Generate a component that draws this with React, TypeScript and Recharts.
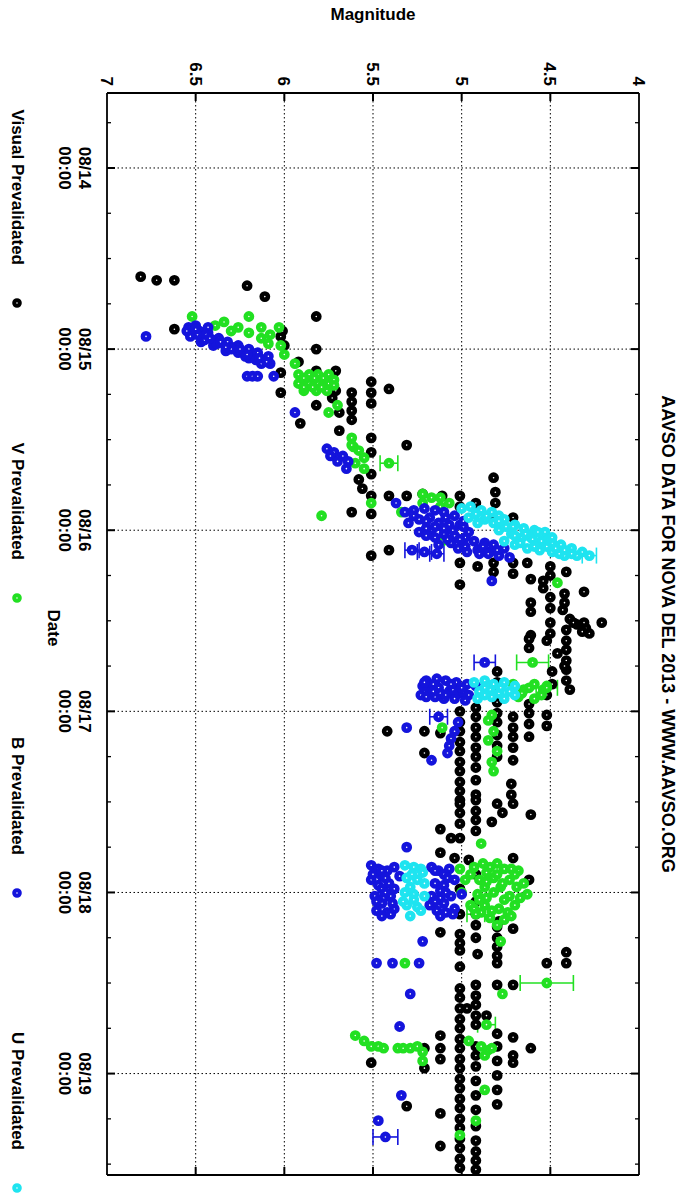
import { CartesianGrid, ErrorBar, Scatter, ScatterChart, XAxis, YAxis } from 'recharts';

// days since 08/14 00:00, magnitude
const VISUAL: [number, number][] = [
  [0.6, 6.81], [0.62, 6.72], [0.62, 6.62], [0.65, 6.21], [0.71, 6.11], [0.82, 5.82], [1.0, 5.82], [0.89, 6.62],
  [1.07, 5.92], [1.24, 6.02], [1.41, 5.91], [1.45, 5.69], [1.31, 5.82], [1.12, 5.71], [1.23, 5.71], [1.24, 5.62],
  [1.29, 5.62], [1.34, 5.62], [1.39, 5.62], [1.18, 5.51], [1.24, 5.51], [1.3, 5.51], [1.22, 5.41], [1.49, 5.51],
  [1.53, 5.31], [0.93, 6.02], [1.13, 6.02], [1.12, 5.82], [1.27, 5.73], [1.35, 5.69], [0.9, 6.01], [0.98, 6.0],
  [1.57, 5.51], [1.69, 5.51], [1.72, 5.58], [1.77, 5.56], [1.81, 5.51], [1.81, 5.41], [1.91, 5.51], [1.9, 5.62],
  [2.14, 5.51], [2.11, 5.41], [1.81, 5.31], [1.8, 5.22], [1.81, 5.11], [1.81, 5.01], [1.87, 5.01], [1.85, 4.92],
  [1.71, 4.82], [1.79, 4.81], [1.85, 4.81], [1.93, 4.81], [1.93, 4.71],
  [2.18, 5.01], [2.3, 5.01], [2.2, 4.91], [2.18, 4.82], [2.23, 4.82], [2.18, 4.71], [2.24, 4.71], [2.18, 4.63],
  [2.27, 4.61], [2.28, 4.54], [2.32, 4.54], [2.2, 4.5], [2.25, 4.5], [2.23, 4.41], [2.35, 4.42], [2.4, 4.42],
  [2.37, 4.5], [2.43, 4.5], [2.4, 4.61], [2.45, 4.61], [2.34, 4.31], [2.44, 4.43], [2.49, 4.39], [2.52, 4.35],
  [2.54, 4.3], [2.57, 4.28], [2.51, 4.21], [2.51, 4.5], [2.57, 4.5], [2.58, 4.61], [2.56, 4.32],
  [2.61, 4.52], [2.6, 4.62], [2.65, 4.62], [2.55, 4.41], [2.51, 4.37], [2.51, 4.31], [2.68, 4.46], [2.61, 4.41],
  [2.66, 4.41], [2.72, 4.41], [2.77, 4.41], [2.83, 4.41], [2.88, 4.39], [2.75, 4.42], [2.78, 4.49], [2.85, 4.49],
  [2.91, 4.52], [3.02, 4.52], [3.08, 4.52],
  [3.0, 5.01], [3.06, 5.01], [3.11, 5.01], [3.17, 5.01], [3.22, 5.01], [3.28, 5.01], [3.33, 5.01], [3.39, 5.01],
  [3.44, 5.01], [3.49, 5.01],
  [2.98, 4.92], [3.03, 4.92], [3.09, 4.92], [3.14, 4.92], [3.2, 4.92], [3.25, 4.92], [3.31, 4.92], [3.38, 4.92],
  [3.46, 4.92],
  [2.78, 4.8], [2.84, 4.8], [2.9, 4.8], [2.95, 4.8], [3.01, 4.8], [3.06, 4.8], [3.13, 4.8], [3.19, 4.8], [3.25, 4.8],
  [3.03, 4.71], [3.09, 4.71], [3.14, 4.71], [3.2, 4.71], [3.27, 4.71],
  [2.96, 4.62], [3.01, 4.62], [3.07, 4.62], [3.14, 4.62],
  [3.11, 5.42], [3.11, 5.21], [3.12, 5.12], [3.23, 5.21], [3.4, 4.72], [3.46, 4.72],
  [3.51, 5.01], [3.56, 5.01], [3.62, 5.01], [3.7, 5.01], [3.49, 4.92], [3.55, 4.92], [3.6, 4.92], [3.66, 4.92],
  [3.51, 4.8], [3.51, 4.71], [3.56, 4.77], [3.61, 4.83], [3.57, 4.61], [3.65, 5.12], [3.7, 5.06], [3.78, 5.12],
  [3.81, 5.04], [3.82, 4.96], [4.12, 5.01], [4.22, 5.12], [4.23, 5.01], [4.28, 5.01], [4.32, 5.01], [4.25, 4.92],
  [4.34, 4.91], [4.19, 4.8], [4.25, 4.8], [4.3, 4.8], [4.35, 4.8], [4.2, 4.71], [3.81, 4.71], [3.93, 4.62],
  [4.41, 5.01], [4.39, 4.8], [4.39, 4.52], [4.33, 4.41], [4.39, 4.41], [4.12, 4.92], [4.18, 4.92], [4.16, 4.79],
  [3.9, 4.92], [3.98, 5.01], [4.05, 4.92],
  [4.53, 5.01], [4.58, 5.01], [4.64, 5.01], [4.7, 5.01], [4.75, 5.01], [4.81, 5.01], [4.86, 5.01], [4.92, 5.01],
  [4.97, 5.01], [5.03, 5.01], [5.08, 5.01], [5.14, 5.01], [5.19, 5.01], [5.25, 5.01], [5.3, 5.01], [5.36, 5.01],
  [5.41, 5.01], [5.47, 5.01], [5.52, 5.01],
  [4.51, 4.92], [4.57, 4.92], [4.62, 4.92], [4.68, 4.92], [4.73, 4.92], [4.85, 4.92], [4.9, 4.92], [4.96, 4.92],
  [5.04, 4.92], [5.12, 4.92], [5.2, 4.92], [5.29, 4.92], [5.37, 4.92], [5.43, 4.92], [5.48, 4.92], [5.53, 4.92],
  [4.51, 4.8], [4.51, 4.71], [4.64, 4.97], [4.68, 4.86], [4.78, 4.8], [4.85, 4.8], [4.93, 4.8], [5.01, 4.8],
  [5.09, 4.8], [5.17, 4.8], [4.8, 4.71], [4.9, 4.71], [4.94, 4.71], [4.86, 4.61], [4.79, 5.12], [4.86, 5.12],
  [4.92, 5.12], [4.86, 5.21], [4.97, 5.21], [4.94, 5.51], [5.18, 5.31], [5.22, 5.12], [5.4, 5.12],
];

const V_BAND: [number, number][] = [
  [0.82, 6.52], [0.82, 6.2], [0.88, 6.13], [0.88, 6.03], [0.87, 6.39], [0.9, 6.3], [0.91, 6.2], [0.94, 6.13],
  [0.97, 6.09], [0.98, 6.02], [1.03, 6.0], [0.88, 6.26], [0.85, 6.34], [0.92, 6.08], [1.08, 5.94],
  [1.14, 5.92], [1.14, 5.86], [1.14, 5.81], [1.14, 5.75], [1.19, 5.92], [1.19, 5.86], [1.19, 5.81], [1.19, 5.75],
  [1.23, 5.89], [1.23, 5.82], [1.23, 5.76],
  [1.16, 5.89], [1.16, 5.83], [1.16, 5.78], [1.21, 5.89], [1.21, 5.84], [1.21, 5.79], [1.17, 5.72], [1.2, 5.72],
  [1.35, 5.75], [1.31, 5.7], [1.49, 5.62], [1.54, 5.61], [1.53, 5.62], [1.56, 5.58], [1.6, 5.55], [1.63, 5.6],
  [1.66, 5.55],
  [1.85, 5.51], [1.92, 5.79], [1.9, 5.34], [1.8, 5.22], [1.85, 5.22], [1.82, 5.17], [1.82, 5.12], [1.87, 5.12],
  [1.85, 5.07], [2.29, 4.46], [2.06, 5.11],
  [2.85, 4.71], [2.88, 4.65], [2.85, 4.59], [2.88, 4.54], [2.92, 4.68], [2.93, 4.59],
  [2.87, 4.62], [2.9, 4.66], [2.91, 4.55], [2.86, 4.52],
  [3.02, 4.83], [3.05, 4.85], [3.11, 4.82], [3.16, 4.85], [3.22, 4.8], [3.28, 4.83], [3.09, 5.11], [3.33, 4.82],
  [3.73, 4.89],
  [3.87, 5.01], [3.86, 4.93], [3.86, 4.84], [3.87, 4.76], [3.88, 4.68], [3.93, 4.98], [3.93, 4.9], [3.92, 4.82],
  [3.93, 4.73], [3.95, 4.65], [4.0, 5.0], [4.01, 4.91], [4.0, 4.82], [4.02, 4.73], [4.01, 4.63], [4.07, 4.95],
  [4.07, 4.87], [4.09, 4.79], [4.07, 4.7], [4.14, 4.84], [4.15, 4.76],
  [3.9, 4.95], [3.9, 4.8], [3.9, 4.7], [3.97, 4.87], [3.97, 4.78], [3.97, 4.69], [4.04, 4.9], [4.04, 4.76],
  [4.11, 4.89], [4.11, 4.74], [4.18, 4.8], [3.84, 4.88], [3.84, 4.8],
  [3.87, 4.72], [3.94, 4.86], [3.95, 4.77], [4.03, 4.86], [4.03, 4.67], [4.09, 4.93], [4.1, 4.83], [4.13, 4.72],
  [3.89, 4.86],
  [4.27, 4.78], [4.39, 5.32], [4.56, 4.77],
  [4.79, 5.6], [4.82, 5.55], [4.85, 5.51], [4.85, 5.47], [4.86, 5.44], [4.86, 5.36], [4.86, 5.33], [4.86, 5.29],
  [4.85, 5.25], [4.88, 5.22], [4.93, 5.22],
  [4.82, 4.96], [4.85, 4.89], [4.87, 4.85], [4.9, 4.87], [4.86, 4.83], [5.09, 4.87], [5.26, 4.92], [5.34, 5.01],
];

const B_BAND: [number, number][] = [
  [0.93, 6.78],
  [0.88, 6.54], [0.91, 6.51], [0.9, 6.48], [0.93, 6.46], [0.91, 6.43], [0.95, 6.4], [0.94, 6.37], [0.97, 6.34],
  [0.96, 6.32], [0.99, 6.29], [0.98, 6.26], [1.02, 6.23], [1.0, 6.2], [1.03, 6.17], [1.02, 6.15], [1.06, 6.12],
  [1.04, 6.09], [1.08, 6.08], [1.08, 6.13], [1.05, 6.2], [1.02, 6.26], [1.01, 6.33], [0.98, 6.4], [0.96, 6.47],
  [0.93, 6.53], [0.87, 6.5], [0.88, 6.43],
  [0.9, 6.55], [0.95, 6.45], [1.0, 6.3], [1.04, 6.22], [1.06, 6.16], [0.97, 6.38], [0.92, 6.49],
  [0.89, 6.5], [0.92, 6.44], [0.94, 6.42], [0.96, 6.36], [0.99, 6.33], [1.0, 6.25], [1.03, 6.21], [1.05, 6.14],
  [1.07, 6.1],
  [1.15, 6.21], [1.15, 6.18], [1.15, 6.15], [1.15, 6.06], [1.35, 5.94],
  [1.55, 5.76], [1.57, 5.72], [1.59, 5.67], [1.62, 5.64], [1.59, 5.74], [1.62, 5.7], [1.66, 5.65],
  [1.85, 5.37],
  [1.9, 5.32], [1.89, 5.27], [1.88, 5.21], [1.89, 5.15], [1.9, 5.1], [1.92, 5.04], [1.96, 5.3], [1.94, 5.24],
  [1.93, 5.18], [1.96, 5.13], [1.97, 5.07], [1.97, 5.01], [2.01, 5.24], [2.0, 5.17], [2.02, 5.1], [2.03, 5.04],
  [2.04, 4.98], [2.06, 4.93], [2.08, 5.13], [2.07, 5.06], [2.09, 4.98], [2.11, 4.91], [2.12, 4.84], [2.14, 4.79],
  [2.15, 4.73], [2.07, 4.87], [2.01, 4.96], [2.08, 4.82], [2.1, 4.76],
  [1.99, 5.2], [2.04, 5.15], [2.05, 5.08], [2.1, 5.02], [2.12, 4.97], [2.13, 4.9], [1.99, 5.1], [1.98, 4.99],
  [1.92, 5.27], [1.95, 5.2], [1.98, 5.15], [2.0, 5.05], [2.03, 5.2], [2.05, 5.01], [2.09, 4.88], [2.11, 4.8],
  [2.13, 4.85], [1.93, 5.09], [1.95, 4.99],
  [2.28, 4.83],
  [2.83, 5.2], [2.82, 5.14], [2.83, 5.09], [2.84, 5.03], [2.85, 4.97], [2.86, 4.92], [2.88, 5.18], [2.87, 5.13],
  [2.89, 5.07], [2.9, 5.01], [2.91, 4.96], [2.92, 5.15], [2.93, 5.1], [2.93, 5.04], [2.94, 4.98], [2.91, 5.23],
  [2.86, 5.22], [2.9, 5.12], [2.88, 5.05], [2.92, 5.2],
  [2.85, 5.16], [2.85, 5.06], [2.89, 5.16], [2.89, 4.99], [2.87, 5.0], [2.91, 5.09], [2.84, 5.21],
  [3.06, 5.02], [3.11, 5.04], [3.15, 5.06], [3.19, 5.07], [3.23, 5.08], [3.09, 5.31], [3.27, 5.17],
  [3.75, 5.31],
  [3.85, 5.51], [3.87, 5.47], [3.88, 5.42], [3.86, 5.38], [3.93, 5.51], [3.96, 5.47], [3.95, 5.41], [4.02, 5.49],
  [4.03, 5.44], [4.02, 5.4], [4.1, 5.48], [4.11, 5.42], [4.09, 5.38], [3.86, 5.17], [3.88, 5.13], [3.87, 5.07],
  [3.95, 5.15], [3.96, 5.1], [3.93, 5.04], [4.02, 5.17], [4.03, 5.12], [4.02, 5.06], [4.1, 5.14], [4.11, 5.09],
  [4.09, 5.04], [3.91, 5.35], [4.07, 5.18],
  [3.9, 5.5], [3.98, 5.45], [4.06, 5.45], [3.9, 5.1], [3.99, 5.12], [4.06, 5.1], [4.13, 5.12], [3.91, 5.45],
  [4.13, 5.45], [4.06, 5.39], [3.98, 5.38],
  [3.88, 5.45], [3.92, 5.43], [4.0, 5.43], [4.05, 5.48], [3.88, 5.15], [3.92, 5.08], [4.0, 5.09], [4.05, 5.15],
  [4.12, 5.05], [4.12, 5.4],
  [4.01, 5.0], [4.27, 5.22], [4.39, 5.48], [4.39, 5.39], [4.39, 5.24],
  [4.56, 5.29], [4.74, 5.35], [5.12, 5.34], [5.26, 5.47],
];

const U_BAND: [number, number][] = [
  [1.88, 5.0], [1.87, 4.95], [1.89, 4.89], [1.9, 4.83], [1.92, 4.79], [1.93, 4.96], [1.94, 4.87], [1.96, 4.82],
  [1.94, 4.76], [1.97, 4.7], [1.99, 4.65], [2.0, 4.59], [2.01, 4.53], [2.0, 4.79], [2.02, 4.72], [2.04, 4.66],
  [2.04, 4.61], [2.06, 4.55], [2.07, 4.49], [2.08, 4.44], [2.1, 4.38], [2.12, 4.32], [2.08, 4.7], [2.1, 4.63],
  [2.11, 4.56], [2.12, 4.49], [2.14, 4.42], [2.14, 4.35], [2.06, 4.76], [2.07, 4.67],
  [1.91, 4.92], [1.96, 4.91], [1.98, 4.75], [2.03, 4.7], [2.09, 4.52], [2.05, 4.6], [2.13, 4.45], [2.1, 4.47],
  [1.92, 4.86], [1.95, 4.79], [1.98, 4.71], [2.02, 4.64], [2.05, 4.51], [2.09, 4.59], [2.11, 4.42], [2.13, 4.38],
  [2.01, 4.57], [2.04, 4.49],
  [2.84, 4.93], [2.83, 4.87], [2.85, 4.82], [2.84, 4.76], [2.86, 4.7], [2.89, 4.9], [2.88, 4.84], [2.9, 4.79],
  [2.89, 4.73], [2.93, 4.91], [2.92, 4.83], [2.93, 4.76], [2.87, 4.87], [2.91, 4.87], [2.87, 4.78], [2.91, 4.7],
  [3.85, 5.32], [3.86, 5.27], [3.87, 5.23], [3.92, 5.31], [3.93, 5.25], [3.95, 5.21], [4.0, 5.32], [4.01, 5.27],
  [4.02, 5.21], [4.07, 5.31], [4.08, 5.25], [4.13, 5.29],
  [3.9, 5.28], [3.97, 5.29], [4.04, 5.27], [4.1, 5.23], [3.89, 5.22], [4.05, 5.33],
];

// [day, magnitude, error]
const V_ERR: [number, number, number][] = [
  [1.63, 5.41, 0.05], [2.73, 4.6, 0.09], [2.87, 4.52, 0.06], [4.12, 4.92, 0.05], [4.5, 4.52, 0.15], [4.73, 4.86, 0.05],
];
const B_ERR: [number, number, number][] = [
  [2.11, 5.28, 0.04], [2.12, 5.21, 0.04], [2.13, 5.14, 0.04], [2.73, 4.87, 0.06], [3.03, 5.13, 0.05], [5.35, 5.43, 0.07],
];
const U_ERR: [number, number, number][] = [[2.14, 4.28, 0.04]];

const DATE_MAJOR = [0, 1, 2, 3, 4, 5];
const DATE_LABELS = ['08/14', '08/15', '08/16', '08/17', '08/18', '08/19'];
const TIME_LABEL = '00:00';
const DATE_MINOR = [
  -0.25, 0.25, 0.5, 0.75, 1.25, 1.5, 1.75, 2.25, 2.5, 2.75, 3.25, 3.5, 3.75, 4.25, 4.5, 4.75, 5.25, 5.5,
];
const MAG_TICKS = [4, 4.5, 5, 5.5, 6, 6.5, 7];
const MAG_GRID = [4.5, 5, 5.5, 6, 6.5];

const SERIES = [
  { name: 'Visual Prevalidated', color: '#000000' },
  { name: 'V Prevalidated', color: '#22e022' },
  { name: 'B Prevalidated', color: '#1414dc' },
  { name: 'U Prevalidated', color: '#1ee4f0' },
];

const T_MIN = -0.414;
const T_MAX = 5.56;
const W = 1195;
const H = 684;
const FONT = '"Liberation Sans", Arial, Helvetica, sans-serif';
const TEXT = { fontFamily: FONT, fontSize: 17, fontWeight: 700, fill: '#000' };

const pts = (rows: [number, number][]) => rows.map(([t, mag]) => ({ t, mag }));
const errPts = (rows: [number, number, number][]) => rows.map(([t, mag, err]) => ({ t, mag, err }));

const marker = (color: string) => (p: any) =>
  <circle cx={p.cx} cy={p.cy} r={3.1} fill="#fff" stroke={color} strokeWidth={4.6} />;

function DateTick({ x, y, payload, side }: any) {
  const idx = DATE_MAJOR.indexOf(payload.value);
  const major = idx >= 0;
  const dir = side === 'bottom' ? -1 : 1;
  return (
    <g>
      <line x1={x} x2={x} y1={y} y2={y + dir * (major ? 8 : 4)} stroke="#000" strokeWidth={major ? 2 : 1.3} />
      {major && side === 'bottom' && (
        <text x={x} y={y} textAnchor="middle" style={TEXT}>
          <tspan x={x} dy={28}>{DATE_LABELS[idx]}</tspan>
          <tspan x={x} dy={20}>{TIME_LABEL}</tspan>
        </text>
      )}
    </g>
  );
}

function MagTick({ x, y, payload, side }: any) {
  const v = payload.value;
  const dir = side === 'left' ? 1 : -1;
  const edge = v === 4 || v === 7;
  return (
    <g>
      {!edge && <line x1={x} x2={x + dir * 8} y1={y} y2={y} stroke="#000" strokeWidth={2} />}
      {side === 'left' && (
        <text x={x - 7} y={y} dy={6} textAnchor="end" style={TEXT}>
          {String(v)}
        </text>
      )}
    </g>
  );
}

const LEGEND_MARKS = [303, 598, 893, 1188];
const AXIS_LINE = { stroke: '#000', strokeWidth: 1.8 };

export default function App() {
  const html = { position: 'absolute' as const, fontFamily: FONT, fontSize: 17, fontWeight: 700, color: '#000', whiteSpace: 'nowrap' as const };
  return (
    <div style={{ position: 'absolute', left: 0, top: 0, width: 684, height: 1195, overflow: 'hidden', background: '#fff' }}>
      <div
        style={{
          position: 'absolute', left: 0, top: 0, width: W, height: H,
          transformOrigin: '0 0', transform: 'translate(684px, 0) rotate(90deg)',
        }}
      >
        <ScatterChart width={W} height={H} margin={{ top: 44, right: 19, bottom: 57, left: 33 }}>
          <CartesianGrid
            stroke="#000"
            strokeDasharray="1.5 2.5"
            verticalValues={DATE_MAJOR}
            horizontalValues={MAG_GRID}
            syncWithTicks={false}
          />
          <XAxis
            xAxisId={0} type="number" dataKey="t" domain={[T_MIN, T_MAX]} allowDataOverflow
            ticks={[...DATE_MAJOR, ...DATE_MINOR]} interval={0} tickSize={0} tickMargin={0} tickLine={false}
            axisLine={AXIS_LINE} height={50} tick={(p: any) => <DateTick {...p} side="bottom" />}
          />
          <XAxis
            xAxisId="top" orientation="top" type="number" dataKey="t" domain={[T_MIN, T_MAX]} allowDataOverflow
            ticks={[...DATE_MAJOR, ...DATE_MINOR]} interval={0} tickSize={0} tickMargin={0} tickLine={false}
            axisLine={AXIS_LINE} height={1} tick={(p: any) => <DateTick {...p} side="top" />}
          />
          <YAxis
            yAxisId={0} type="number" dataKey="mag" domain={[4, 7]} reversed allowDataOverflow
            ticks={MAG_TICKS} interval={0} tickSize={0} tickMargin={0} tickLine={false}
            axisLine={AXIS_LINE} width={60} tick={(p: any) => <MagTick {...p} side="left" />}
          />
          <YAxis
            yAxisId="right" orientation="right" type="number" dataKey="mag" domain={[4, 7]} reversed allowDataOverflow
            ticks={MAG_TICKS} interval={0} tickSize={0} tickMargin={0} tickLine={false}
            axisLine={AXIS_LINE} width={1} tick={(p: any) => <MagTick {...p} side="right" />}
          />
          <Scatter name={SERIES[0].name} data={pts(VISUAL)} shape={marker(SERIES[0].color)} isAnimationActive={false} />
          <Scatter name={SERIES[1].name} data={pts(V_BAND)} shape={marker(SERIES[1].color)} isAnimationActive={false} />
          <Scatter name="V err" data={errPts(V_ERR)} shape={marker(SERIES[1].color)} isAnimationActive={false}>
            <ErrorBar dataKey="err" direction="y" width={8} stroke={SERIES[1].color} strokeWidth={1.6} />
          </Scatter>
          <Scatter name={SERIES[2].name} data={pts(B_BAND)} shape={marker(SERIES[2].color)} isAnimationActive={false} />
          <Scatter name="B err" data={errPts(B_ERR)} shape={marker(SERIES[2].color)} isAnimationActive={false}>
            <ErrorBar dataKey="err" direction="y" width={8} stroke={SERIES[2].color} strokeWidth={1.6} />
          </Scatter>
          <Scatter name={SERIES[3].name} data={pts(U_BAND)} shape={marker(SERIES[3].color)} isAnimationActive={false} />
          <Scatter name="U err" data={errPts(U_ERR)} shape={marker(SERIES[3].color)} isAnimationActive={false}>
            <ErrorBar dataKey="err" direction="y" width={8} stroke={SERIES[3].color} strokeWidth={1.6} />
          </Scatter>
        </ScatterChart>

        <div style={{ ...html, left: 634, top: 17, fontSize: 18, transform: 'translate(-50%, -50%)' }}>
          AAVSO DATA FOR NOVA DEL 2013 - WWW.AAVSO.ORG
        </div>
        <div style={{ ...html, left: 15, top: 311, transform: 'translate(-50%, -50%) rotate(-90deg)' }}>Magnitude</div>
        <div style={{ ...html, left: 628, top: 631, transform: 'translate(-50%, -50%)' }}>Date</div>
        {SERIES.map((s, i) => (
          <div key={s.name}>
            <div style={{ ...html, left: 0, width: LEGEND_MARKS[i] - 38, top: 667, textAlign: 'right', transform: 'translateY(-50%)' }}>
              {s.name}
            </div>
            <svg style={{ position: 'absolute', left: LEGEND_MARKS[i] - 6, top: 661 }} width={12} height={12}>
              <circle cx={6} cy={6} r={2.8} fill="#fff" stroke={s.color} strokeWidth={4} />
            </svg>
          </div>
        ))}
      </div>
    </div>
  );
}
